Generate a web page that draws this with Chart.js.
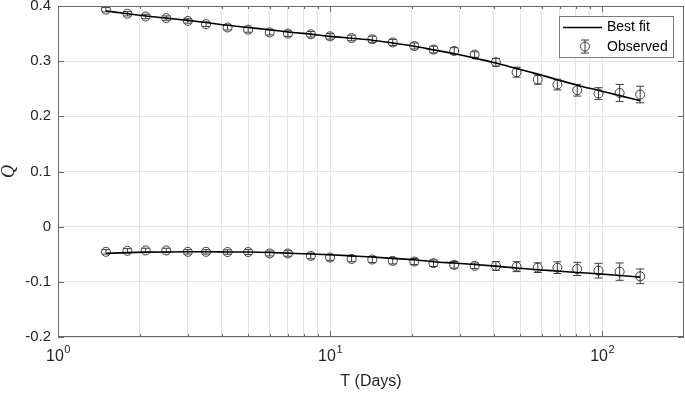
<!DOCTYPE html>
<html>
<head>
<meta charset="utf-8">
<script src="https://cdn.jsdelivr.net/npm/chart.js@4.4.1/dist/chart.umd.min.js"></script>
<style>
  body { margin: 0; background: #fff; }
  #wrap { width: 685px; height: 393px; position: relative; }
</style>
</head>
<body>
<div id="wrap"><canvas id="grafico"></canvas></div>
<script>
/* ================= DADOS ================= */
const tDays = [1.5, 1.8, 2.1, 2.5, 3, 3.5, 4.2, 5, 6, 7, 8.5, 10, 12, 14.3, 17, 20.4, 24, 28.6, 34, 40.7, 48.5, 58, 68.5, 81, 97, 116, 138];

const upperObs = [0.3935, 0.386, 0.381, 0.378, 0.373, 0.367, 0.361, 0.357, 0.352, 0.350, 0.3487, 0.345, 0.342, 0.3397, 0.334, 0.3275, 0.321, 0.3185, 0.312, 0.298, 0.280, 0.2667, 0.2576, 0.2473, 0.2413, 0.2424, 0.2395];
const upperErr = [0.004, 0.004, 0.004, 0.004, 0.004, 0.004, 0.0045, 0.0045, 0.0045, 0.005, 0.005, 0.005, 0.005, 0.0055, 0.0055, 0.0055, 0.006, 0.006, 0.005, 0.007, 0.009, 0.0085, 0.0097, 0.0106, 0.0106, 0.0154, 0.015];
const upperFit = [0.391, 0.386, 0.382, 0.378, 0.374, 0.370, 0.365, 0.361, 0.357, 0.353, 0.349, 0.345, 0.3415, 0.338, 0.333, 0.327, 0.3205, 0.3135, 0.3055, 0.2965, 0.2865, 0.2765, 0.2665, 0.2565, 0.247, 0.2375, 0.2285];

const lowerObs = [-0.0456, -0.0438, -0.0431, -0.0431, -0.0456, -0.0456, -0.046, -0.046, -0.0486, -0.0486, -0.053, -0.056, -0.0585, -0.0596, -0.062, -0.0632, -0.0662, -0.0692, -0.071, -0.0712, -0.0725, -0.0743, -0.0743, -0.0766, -0.0797, -0.0815, -0.090];
const lowerErr = [0.004, 0.004, 0.004, 0.004, 0.004, 0.004, 0.004, 0.0045, 0.0045, 0.005, 0.005, 0.005, 0.005, 0.0055, 0.0055, 0.0055, 0.006, 0.006, 0.005, 0.008, 0.009, 0.0088, 0.0106, 0.012, 0.0133, 0.0157, 0.0133];
const lowerFit = [-0.0485, -0.047, -0.0462, -0.0458, -0.0456, -0.0456, -0.0458, -0.046, -0.0468, -0.048, -0.0495, -0.051, -0.053, -0.055, -0.0575, -0.060, -0.0635, -0.066, -0.0685, -0.0715, -0.075, -0.078, -0.0805, -0.083, -0.0855, -0.0885, -0.0915];

const xGridValues = [1, 2, 3, 4, 5, 6, 7, 8, 9, 10, 20, 30, 40, 50, 60, 70, 80, 90, 100];
const xTickValues = [1, 10, 100];
const xTickExps = ['0', '1', '2'];
const legendLabels = ['Best fit', 'Observed'];

const FONTE = '"Liberation Sans", Arial, Helvetica, sans-serif';
const COR_TEXTO = '#262626';
const COR_MARCA = '#3c3c3c';

function pontos(ys) {
  return tDays.map((t, i) => ({ x: t, y: ys[i] }));
}

/* ================= PLUGIN: barras de erro, moldura, legenda ================= */
const extras = {
  id: 'extras',
  beforeDatasetsDraw(chart) {
    const ctx = chart.ctx;
    const xs = chart.scales.x, ys = chart.scales.y;
    ctx.save();
    ctx.strokeStyle = COR_MARCA;
    ctx.lineWidth = 1;
    [[upperObs, upperErr], [lowerObs, lowerErr]].forEach(([obs, err]) => {
      obs.forEach((v, i) => {
        const x = xs.getPixelForValue(tDays[i]);
        const y1 = ys.getPixelForValue(v - err[i]);
        const y2 = ys.getPixelForValue(v + err[i]);
        ctx.beginPath();
        ctx.moveTo(x, y1); ctx.lineTo(x, y2);
        ctx.moveTo(x - 4, y1); ctx.lineTo(x + 4, y1);
        ctx.moveTo(x - 4, y2); ctx.lineTo(x + 4, y2);
        ctx.stroke();
      });
    });
    ctx.restore();
  },
  afterDraw(chart) {
    const ctx = chart.ctx;
    const a = chart.chartArea;
    const xs = chart.scales.x, ys = chart.scales.y;
    ctx.save();

    // moldura
    ctx.strokeStyle = '#6a6a6a';
    ctx.lineWidth = 1;
    ctx.strokeRect(a.left + 0.5, a.top + 0.5, a.right - a.left - 1, a.bottom - a.top - 1);

    // ticks para dentro
    ctx.beginPath();
    ys.ticks.forEach(tk => {
      const y = Math.round(ys.getPixelForValue(tk.value)) + 0.5;
      ctx.moveTo(a.left, y); ctx.lineTo(a.left + 6, y);
      ctx.moveTo(a.right, y); ctx.lineTo(a.right - 6, y);
    });
    xGridValues.forEach(v => {
      const x = Math.round(xs.getPixelForValue(v)) + 0.5;
      const len = xTickValues.includes(v) ? 6 : 3;
      ctx.moveTo(x, a.bottom); ctx.lineTo(x, a.bottom - len);
      ctx.moveTo(x, a.top); ctx.lineTo(x, a.top + len);
    });
    ctx.stroke();

    // rótulos do eixo x (10^n)
    ctx.fillStyle = COR_TEXTO;
    ctx.textBaseline = 'alphabetic';
    ctx.textAlign = 'left';
    xTickValues.forEach((v, i) => {
      const x = xs.getPixelForValue(v);
      ctx.font = '16px ' + FONTE;
      const wb = ctx.measureText('10').width;
      ctx.font = '11px ' + FONTE;
      const we = ctx.measureText(xTickExps[i]).width;
      const x0 = x - (wb + we) / 2;
      ctx.font = '16px ' + FONTE;
      ctx.fillText('10', x0, a.bottom + 24);
      ctx.font = '11px ' + FONTE;
      ctx.fillText(xTickExps[i], x0 + wb + 0.5, a.bottom + 16);
    });

    // legenda
    const lx = 559, ly = 16, lw = 114, lh = 41;
    ctx.fillStyle = '#fff';
    ctx.fillRect(lx, ly, lw, lh);
    ctx.strokeStyle = '#7a7a7a';
    ctx.strokeRect(lx + 0.5, ly + 0.5, lw, lh);

    ctx.strokeStyle = '#000';
    ctx.lineWidth = 1.6;
    ctx.beginPath();
    ctx.moveTo(563, 27.5); ctx.lineTo(602, 27.5);
    ctx.stroke();

    ctx.strokeStyle = COR_MARCA;
    ctx.lineWidth = 1;
    ctx.beginPath();
    ctx.arc(585, 46.5, 4.5, 0, Math.PI * 2);
    ctx.moveTo(585, 40); ctx.lineTo(585, 53);
    ctx.moveTo(581, 40); ctx.lineTo(589, 40);
    ctx.moveTo(581, 53); ctx.lineTo(589, 53);
    ctx.stroke();

    ctx.fillStyle = '#000';
    ctx.font = '14px ' + FONTE;
    ctx.textBaseline = 'middle';
    ctx.fillText(legendLabels[0], 607, 27);
    ctx.fillText(legendLabels[1], 607, 47);

    ctx.restore();
  }
};

/* ================= GRÁFICO ================= */
const linhaFit = {
  showLine: true,
  borderColor: '#000',
  borderWidth: 1.6,
  pointRadius: 0,
  cubicInterpolationMode: 'monotone'
};
const marcaObs = {
  showLine: false,
  pointRadius: 4.5,
  pointBorderColor: COR_MARCA,
  pointBackgroundColor: 'rgba(0,0,0,0)',
  pointBorderWidth: 1
};

const grafico = new Chart(document.getElementById('grafico'), {
  type: 'scatter',
  data: {
    datasets: [
      Object.assign({ label: 'Best fit', data: pontos(upperFit) }, linhaFit),
      Object.assign({ label: 'Best fit 2', data: pontos(lowerFit) }, linhaFit),
      Object.assign({ label: 'Observed', data: pontos(upperObs) }, marcaObs),
      Object.assign({ label: 'Observed 2', data: pontos(lowerObs) }, marcaObs)
    ]
  },
  options: {
    responsive: true,
    maintainAspectRatio: false,
    animation: false,
    layout: { autoPadding: false, padding: { top: 6, right: 1, left: 0, bottom: 0 } },
    plugins: {
      legend: { display: false },
      tooltip: { enabled: false }
    },
    scales: {
      x: {
        type: 'logarithmic',
        min: 1,
        max: 200,
        afterBuildTicks: s => { s.ticks = xGridValues.map(v => ({ value: v })); },
        afterFit: s => { s.height = 56; s.paddingLeft = 0; s.paddingRight = 0; },
        ticks: { display: false },
        grid: { color: '#e4e4e4', drawTicks: false },
        border: { display: false },
        title: {
          display: true,
          text: 'T (Days)',
          color: COR_TEXTO,
          font: { family: FONTE, size: 16 },
          padding: { top: 0, bottom: 2 }
        }
      },
      y: {
        min: -0.2,
        max: 0.4,
        afterFit: s => { s.width = 58; s.paddingTop = 0; s.paddingBottom = 0; },
        ticks: {
          stepSize: 0.1,
          padding: 7,
          color: COR_TEXTO,
          font: { family: FONTE, size: 15 },
          callback: v => String(Number(v.toFixed(1)))
        },
        grid: { color: '#e4e4e4', drawTicks: false },
        border: { display: false },
        title: {
          display: true,
          text: 'Q',
          color: COR_TEXTO,
          font: { family: '"Liberation Serif", "Times New Roman", serif', size: 18, style: 'italic', lineHeight: 1 },
          padding: { top: 0, bottom: 0 }
        }
      }
    }
  },
  plugins: [extras]
});
</script>
</body>
</html>
